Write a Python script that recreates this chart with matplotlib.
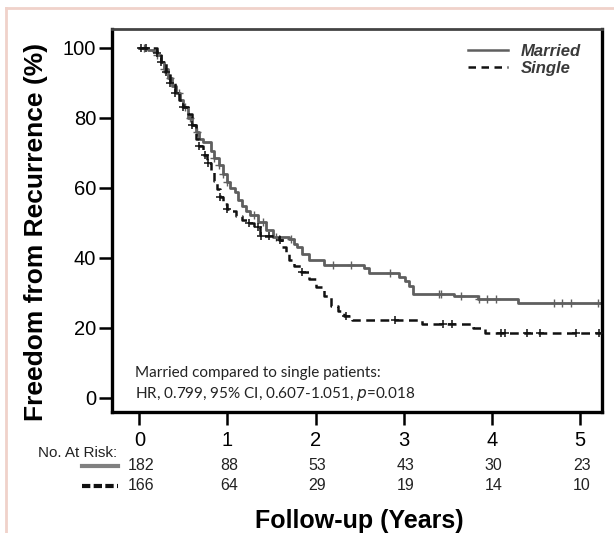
import numpy as np
import matplotlib.pyplot as plt
from matplotlib.lines import Line2D
from matplotlib.transforms import blended_transform_factory

# Kaplan-Meier step points (years, % free from recurrence)
married_t = [0, 0.1, 0.15, 0.2, 0.25, 0.28, 0.32, 0.37, 0.42, 0.46, 0.5, 0.55, 0.6,
             0.64, 0.68, 0.72, 0.81, 0.85, 0.9, 0.95, 0.99, 1.03, 1.08, 1.12, 1.17,
             1.21, 1.26, 1.35, 1.44, 1.52, 1.7, 1.75, 1.79, 1.85, 1.92, 2.1, 2.55,
             2.61, 2.95, 3.02, 3.06, 3.1, 3.57, 3.84, 4.3, 5.26]
married_s = [100, 99.5, 99, 98, 96, 94, 91.5, 89, 87, 85, 83, 80, 78,
             76, 74, 73, 70.5, 68.5, 66.5, 64, 61.6, 60, 58.7, 56.5, 54.8,
             53.5, 52.3, 50.3, 47.9, 45.9, 45.4, 44, 43, 41, 39.5, 38, 37,
             35.6, 34.6, 33.5, 32, 29.7, 29, 28.2, 27.2, 27.2]
married_cens = [0.05, 0.2, 0.28, 0.35, 0.45, 0.52, 0.58, 0.65, 0.85, 0.9, 0.95, 1.0,
                1.3, 1.4, 1.55, 1.72, 2.2, 2.4, 2.85, 3.4, 3.42, 3.65, 3.85, 3.95,
                4.05, 4.7, 4.8, 4.9, 5.2]

single_t = [0, 0.2, 0.25, 0.3, 0.35, 0.4, 0.45, 0.5, 0.55, 0.6, 0.64, 0.68, 0.72,
            0.77, 0.81, 0.85, 0.88, 0.92, 0.95, 1.0, 1.04, 1.1, 1.17, 1.24, 1.3,
            1.37, 1.59, 1.62, 1.66, 1.7, 1.75, 1.84, 1.92, 2.01, 2.1, 2.17, 2.26,
            2.32, 2.41, 3.21, 3.79, 3.92, 5.26]
single_s = [100, 98.5, 96, 93, 90, 87, 85, 83, 81, 78, 74, 72, 69.5,
            67, 64.6, 62, 59.7, 57.5, 55.3, 54, 53.3, 52, 50.8, 50, 48.9,
            46.4, 45, 43, 41, 39.5, 37.6, 36, 34, 31.7, 29.2, 26.3, 24.8,
            23.5, 22.3, 21.1, 19.9, 18.6, 18.6]
single_cens = [0.02, 0.08, 0.2, 0.25, 0.3, 0.35, 0.4, 0.5, 0.6, 0.68, 0.75, 0.78,
               0.92, 1.0, 1.25, 1.35, 1.38, 1.47, 1.6, 1.85, 2.35, 2.9, 3.45, 3.55,
               4.1, 4.15, 4.4, 4.55, 4.95, 5.22]

years = [0, 1, 2, 3, 4, 5]
married_risk = [182, 88, 53, 43, 30, 23]
single_risk = [166, 64, 29, 19, 14, 10]

MARRIED = "#5f5f5f"
SINGLE = "#111111"
TEXT = "#222222"


def step_value(t, s, x):
    idx = np.searchsorted(t, x, side="right") - 1
    return np.asarray(s)[idx]


def fig_xy(px, py):
    # pixel position (from top-left) to figure fraction
    return px / 614, 1 - py / 533


plt.rcParams["font.family"] = ["Liberation Sans", "DejaVu Sans"]
fig = plt.figure(figsize=(6.14, 5.33), dpi=100)
ax = fig.add_axes([112 / 614, 1 - 412 / 533, 490 / 614, 383 / 533])

ax.step(married_t, married_s, where="post", color=MARRIED, lw=2.0, zorder=2)
ax.plot(married_cens, step_value(married_t, married_s, married_cens), "+",
        color=MARRIED, ms=6, mew=1.0, zorder=2)
ax.step(single_t, single_s, where="post", color=SINGLE, lw=1.8,
        dashes=(3.5, 2.2), zorder=3)
ax.plot(single_cens, step_value(single_t, single_s, single_cens), "+",
        color=SINGLE, ms=6, mew=1.1, zorder=3)

ax.set_xlim(-0.31, 5.25)
ax.set_ylim(-4, 105.4)
ax.set_yticks([0, 20, 40, 60, 80, 100])
ax.set_xticks(years)
ax.tick_params(axis="both", direction="out", length=9.5, width=1.8,
               labelsize=14.5, colors="black")
ax.tick_params(axis="y", pad=2)
ax.tick_params(axis="x", pad=4)
for side in ["left", "right", "bottom"]:
    ax.spines[side].set_linewidth(2.4)
ax.spines["top"].set_linewidth(2.0)
ax.spines["top"].set_color("#444444")

fig.text(*fig_xy(36, 232), "Freedom from Recurrence (%)", fontsize=19,
         fontweight="bold", rotation=90, ha="center", va="center")
fig.text(*fig_xy(359, 521), "Follow-up (Years)", fontsize=18,
         fontweight="bold", ha="center", va="center")

# legend top right
handles = [Line2D([], [], color=MARRIED, lw=1.8),
           Line2D([], [], color=SINGLE, lw=1.8, dashes=(3, 2.2))]
leg = ax.legend(handles, ["Married", "Single"], loc="upper right",
                frameon=False, handlelength=2.4, handletextpad=0.8,
                labelspacing=0.12, borderaxespad=0.5, bbox_to_anchor=(0.988, 1.0),
                prop={"size": 12, "weight": "bold", "style": "italic"})
for txt in leg.get_texts():
    txt.set_color("#3a3a3a")

fig.text(*fig_xy(135, 373), "Married compared to single patients:",
         fontsize=11, family="Lato", va="center", color=TEXT)
fig.text(*fig_xy(135, 394),
         "HR, 0.799, 95% CI, 0.607-1.051, $\\it{p}$=0.018",
         fontsize=11, family="Lato", va="center", color=TEXT)

# number at risk table
trans = blended_transform_factory(ax.transData, fig.transFigure)
fig.text(*fig_xy(117, 453), "No. At Risk:", fontsize=11, ha="right",
         va="center", color=TEXT)
for x, m, s in zip(years, married_risk, single_risk):
    ax.text(x + 0.02, 1 - 466 / 533, str(m), transform=trans, fontsize=11.5,
            ha="center", va="center", color=TEXT, clip_on=False)
    ax.text(x + 0.02, 1 - 486 / 533, str(s), transform=trans, fontsize=11.5,
            ha="center", va="center", color=TEXT, clip_on=False)
fig.add_artist(Line2D([82 / 614, 118 / 614], [1 - 466 / 533] * 2,
                      color="#808080", lw=3, transform=fig.transFigure))
fig.add_artist(Line2D([82 / 614, 118 / 614], [1 - 486 / 533] * 2,
                      color=SINGLE, lw=3, dashes=(2, 0.8),
                      transform=fig.transFigure))

# pink page border
fig.add_artist(Line2D([6 / 614, 1], [1 - 8 / 533] * 2, color="#f0d2ca", lw=2,
                      transform=fig.transFigure))
fig.add_artist(Line2D([6 / 614] * 2, [0, 1 - 8 / 533], color="#f0d2ca", lw=2,
                      transform=fig.transFigure))

fig.savefig("out.png", dpi=100)
